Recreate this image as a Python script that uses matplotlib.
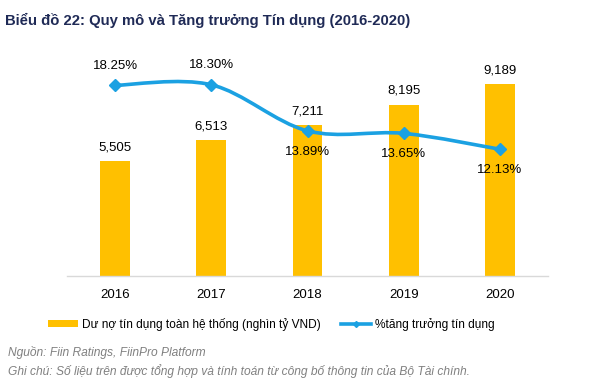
import matplotlib
matplotlib.use("Agg")
import matplotlib.pyplot as plt
from matplotlib.path import Path
from matplotlib.patches import PathPatch, Patch
from matplotlib.lines import Line2D

# Data
years = ["2016", "2017", "2018", "2019", "2020"]
credit = [5505, 6513, 7211, 8195, 9189]           # nghin ty VND
growth = [18.25, 18.30, 13.89, 13.65, 12.13]      # %
credit_labels = ["5,505", "6,513", "7,211", "8,195", "9,189"]
growth_labels = ["18.25%", "18.30%", "13.89%", "13.65%", "12.13%"]
growth_label_pos = ["above", "above", "below", "below", "below"]

BAR_COLOR = "#FFC000"
LINE_COLOR = "#1BA1E2"
TITLE_COLOR = "#1F2A56"

plt.rcParams["font.family"] = ["Liberation Sans", "DejaVu Sans"]

fig = plt.figure(figsize=(6, 3.91), dpi=100)
ax = fig.add_axes([0.1117, 0.2941, 0.8017, 0.5345])
x = list(range(len(years)))

ax.bar(x, credit, width=0.31, color=BAR_COLOR, zorder=2)
ax.set_xlim(-0.5, 4.5)
ax.set_ylim(0, 10000)
for xi, v, lab in zip(x, credit, credit_labels):
    ax.annotate(lab, (xi, v), xytext=(0, 10), textcoords="offset points",
                ha="center", va="center", fontsize=9.5, color="#000000")

for s in ["top", "right", "left"]:
    ax.spines[s].set_visible(False)
ax.spines["bottom"].set_color("#D9D9D9")
ax.spines["bottom"].set_linewidth(1.0)
ax.set_yticks([])
ax.set_xticks(x)
ax.set_xticklabels(years, fontsize=9.5)
ax.tick_params(axis="x", length=0, pad=9)

# growth line on a secondary axis, smoothed like Excel
ax2 = ax.twinx()
ax2.set_ylim(0, 20)
ax2.set_yticks([])
for s in ["top", "right", "left", "bottom"]:
    ax2.spines[s].set_visible(False)

pts = list(zip(x, growth))
verts = [pts[0]]
codes = [Path.MOVETO]
n = len(pts)
for i in range(n - 1):
    p0 = pts[i - 1] if i > 0 else pts[i]
    p1, p2 = pts[i], pts[i + 1]
    p3 = pts[i + 2] if i + 2 < n else pts[i + 1]
    c1 = (p1[0] + (p2[0] - p0[0]) / 6, p1[1] + (p2[1] - p0[1]) / 6)
    c2 = (p2[0] - (p3[0] - p1[0]) / 6, p2[1] - (p3[1] - p1[1]) / 6)
    verts += [c1, c2, p2]
    codes += [Path.CURVE4] * 3
ax2.add_patch(PathPatch(Path(verts, codes), facecolor="none",
                        edgecolor=LINE_COLOR, lw=2.6, zorder=3))
ax2.plot(x, growth, linestyle="none", marker="D", markersize=6,
         color=LINE_COLOR, zorder=4)
for xi, v, lab, pos in zip(x, growth, growth_labels, growth_label_pos):
    dy = 14 if pos == "above" else -15
    ax2.annotate(lab, (xi, v), xytext=(0, dy), textcoords="offset points",
                 ha="center", va="center", fontsize=9.5, color="#000000",
                 annotation_clip=False)

# title
fig.text(0.009, 0.948, "Biểu đồ 22: Quy mô và Tăng trưởng Tín dụng (2016-2020)",
         fontsize=10.7, fontweight="bold", color=TITLE_COLOR, ha="left", va="center")

# legend
handles = [Patch(facecolor=BAR_COLOR, edgecolor="none"),
           Line2D([0], [0], color=LINE_COLOR, lw=2.6, marker="D", markersize=3)]
fig.legend(handles, ["Dư nợ tín dụng toàn hệ thống (nghìn tỷ VND)",
                     "%tăng trưởng tín dụng"],
           loc="center", bbox_to_anchor=(0.4525, 0.171), ncol=2, frameon=False,
           fontsize=8.6, handlelength=2.5, handleheight=0.5,
           handletextpad=0.35, columnspacing=1.7)

# footer
fig.text(0.013, 0.098, "Nguồn: Fiin Ratings, FiinPro Platform",
         fontsize=8.65, style="italic", color="#808080", ha="left", va="center")
fig.text(0.013, 0.050,
         "Ghi chú: Số liệu trên được tổng hợp và tính toán từ công bố thông tin của Bộ Tài chính.",
         fontsize=8.65, style="italic", color="#808080", ha="left", va="center")

fig.savefig("out.png", dpi=100)
